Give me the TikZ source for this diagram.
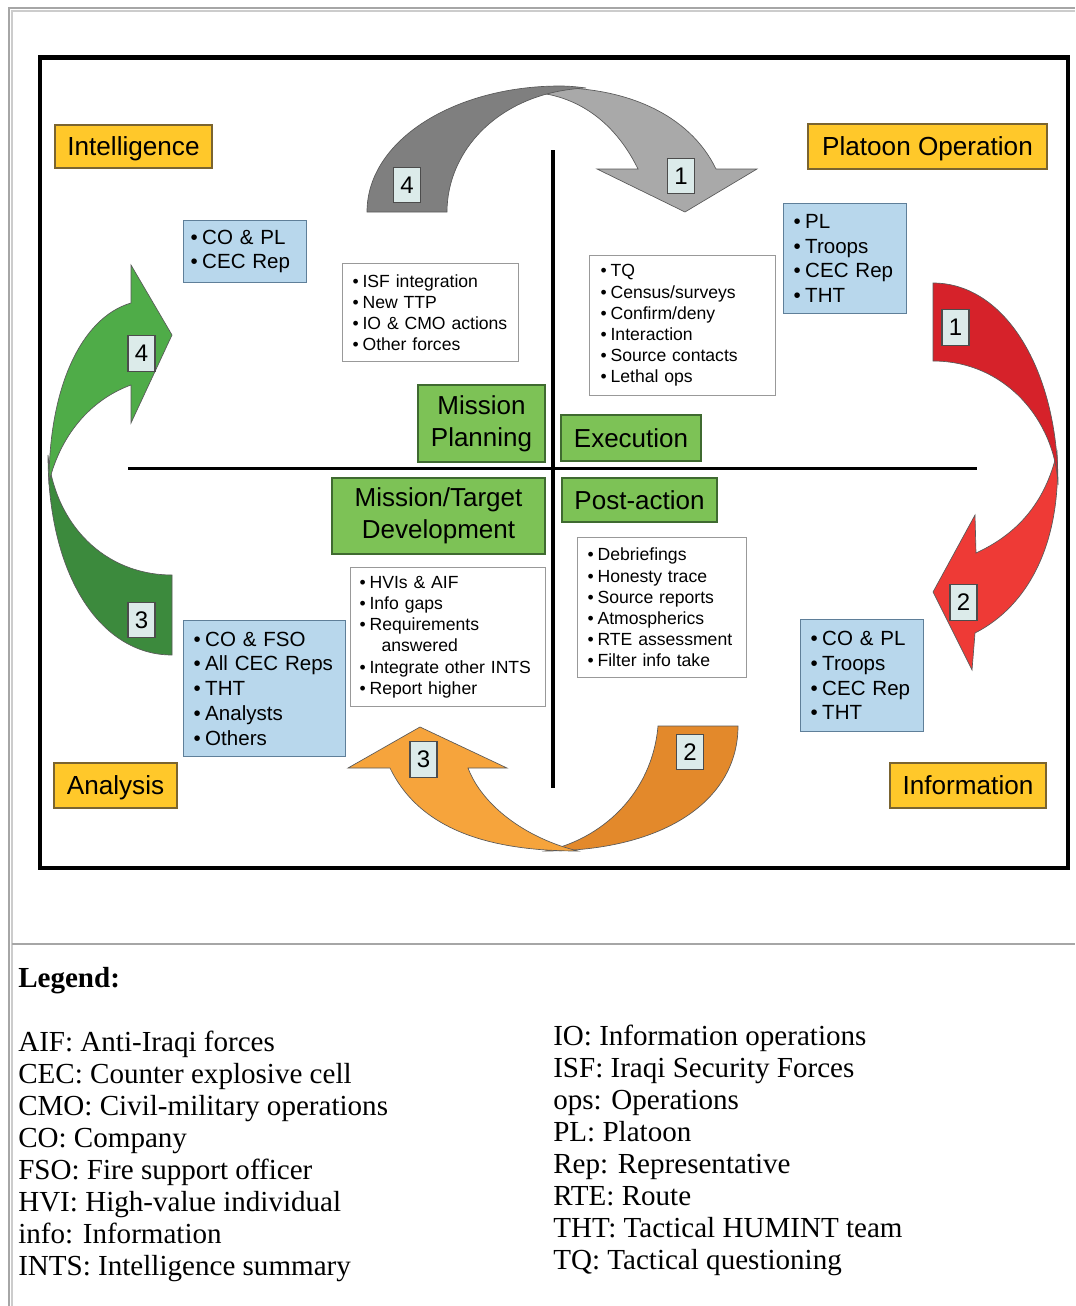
\documentclass[tikz,border=0pt]{standalone}
\usepackage{fontspec}
\usepackage{graphicx}
\setmainfont{Liberation Serif}
\newfontfamily\arialf{Liberation Sans}
\definecolor{yelF}{HTML}{FFC82A}
\definecolor{yelD}{HTML}{7A6430}
\definecolor{bluF}{HTML}{B8D7EC}
\definecolor{bluD}{HTML}{5F7F99}
\definecolor{grnF}{HTML}{7DC256}
\definecolor{grnD}{HTML}{3F6A30}
\definecolor{numF}{HTML}{DCEBEA}
\definecolor{gryA}{HTML}{7F7F7F}
\definecolor{gryB}{HTML}{A9A9A9}
\definecolor{redA}{HTML}{D6222A}
\definecolor{redB}{HTML}{EE3A36}
\definecolor{grA}{HTML}{4FAC48}
\definecolor{grB}{HTML}{3C8A3D}
\definecolor{orA}{HTML}{F6A43C}
\definecolor{orB}{HTML}{E3892B}
\newcommand{\bul}{\textbullet\hspace{0.22em}}
\tikzset{
  yel/.style={draw=yelD, fill=yelF, line width=0.8pt, inner sep=0pt, text depth=0pt,
    font=\arialf\fontsize{19.6}{23}\selectfont},
  listbox/.style={anchor=north west, inner ysep=0pt, align=left,
    font=\arialf\fontsize{15.4}{18.6}\selectfont},
  blu/.style={listbox, draw=bluD, fill=bluF, line width=0.8pt},
  wht/.style={listbox, draw=gray!80, fill=white, line width=0.8pt,
    font=\arialf\fontsize{13.2}{15.9}\selectfont},
  grn/.style={draw=grnD, fill=grnF, line width=0.8pt, inner sep=0pt, align=center,
    font=\arialf\fontsize{19.5}{24}\selectfont},
  num/.style={draw=black!70, fill=numF, line width=0.8pt, inner sep=0pt,
    minimum width=20.25pt, minimum height=26.5pt, font=\arialf\fontsize{18}{20}\selectfont},
  ashape/.style={draw=black!65, line width=0.5pt},
  leg/.style={anchor=base west, inner sep=0pt, font=\fontsize{21.8}{26}\selectfont}
}
\begin{document}
\begin{tikzpicture}[x=0.75pt,y=-0.75pt]
\useasboundingbox (0,0) rectangle (1075,1306);
% outer page frame
\draw[gray!70, line width=1pt] (9,1306) -- (9,8) -- (1075,8);
\draw[gray!40, line width=1pt] (12,1306) -- (12,11) -- (1075,11);
\draw[gray!70, line width=1.4pt] (12,944) -- (1075,944);
% black frame
\draw[line width=3.6pt] (40,57.5) rectangle (1068,868);
% axes
\draw[line width=2.3pt] (553,150) -- (553,788);
\draw[line width=2.3pt] (128,468.5) -- (977,468.5);

% gray arrows (top)
\fill[gryB, ashape] (540,88) .. controls (625,84) and (690,115) .. (716,169)
  -- (757,169) -- (685,212) -- (597,169) -- (638,169)
  .. controls (618,128) and (585,99) .. (540,93) -- cycle;
\fill[gryA, ashape] (367,212) .. controls (367,140) and (455,86) .. (560,86)
  .. controls (570,86) and (578,87) .. (586,88)
  .. controls (500,92) and (447,150) .. (447,212) -- cycle;

% red arrows (right)
\fill[redB, ashape] (1057,452) .. controls (1062,540) and (1030,605) .. (975,633)
  -- (972,670) -- (933,592) -- (975,515) -- (976,553)
  .. controls (1015,535) and (1045,505) .. (1057,452) -- cycle;
\fill[redA, ashape] (933,283) .. controls (1005,283) and (1058,370) .. (1058,485)
  .. controls (1055,420) and (1005,361) .. (933,361) -- cycle;

% green arrows (left)
\fill[grB, ashape] (172,655) .. controls (100,655) and (48,575) .. (48,455)
  .. controls (55,525) and (105,575) .. (172,575) -- cycle;
\fill[grA, ashape] (131,385) .. controls (95,398) and (62,430) .. (49,482)
  .. controls (49,390) and (80,318) .. (131,303) -- (131,265) -- (172,335)
  -- (131,423) -- cycle;

% orange arrows (bottom)
\fill[orB, ashape] (658,726) -- (738,726) .. controls (738,800) and (665,851) .. (545,851)
  .. controls (600,840) and (652,795) .. (658,726) -- cycle;
\fill[orA, ashape] (468,768) -- (507,768) -- (420,727) -- (348,768) -- (390,768)
  .. controls (420,830) and (490,851) .. (578,851)
  .. controls (525,838) and (482,805) .. (468,768) -- cycle;

% number labels
\node[num] (g4) at (407,185) {4};
\node[num] (g1) at (681,176) {1};
\node[num] (r1) at (955.5,327.5) {1};
\node[num] (r2) at (963.5,602.5) {2};
\node[num] (e4) at (141.5,353.5) {4};
\node[num] (e3) at (141.5,620) {3};
\node[num] (o3) at (423.5,759.5) {3};
\node[num] (o2) at (690,752) {2};

% corner labels
\node[yel, minimum width=117.75pt, minimum height=32.25pt] (intel) at (133.5,146.5) {Intelligence};
\node[yel, minimum width=179.25pt, minimum height=33.75pt] (plop) at (927.5,146.5) {Platoon Operation};
\node[yel, minimum width=92.25pt, minimum height=33.75pt] (anal) at (115.5,785.5) {Analysis};
\node[yel, minimum width=117pt, minimum height=33.75pt] (info) at (968,785.5) {Information};

% blue boxes
\node[blu, inner xsep=5.25pt, text width=81.75pt, minimum height=46.5pt] (b1) at (183,220)
  {\bul CO \& PL\\ \bul CEC Rep};
\node[blu, inner xsep=7.5pt, text width=77.25pt, minimum height=82.5pt] (b2) at (783,203)
  {\bul PL\\ \bul Troops\\ \bul CEC Rep\\ \bul THT};
\node[blu, inner xsep=7.5pt, text width=106.5pt, minimum height=102pt] (b3) at (183,620)
  {\bul CO \& FSO\\ \bul All CEC Reps\\ \bul THT\\ \bul Analysts\\ \bul Others};
\node[blu, inner xsep=7.5pt, text width=77.25pt, minimum height=84pt] (b4) at (800,619)
  {\bul CO \& PL\\ \bul Troops\\ \bul CEC Rep\\ \bul THT};

% white boxes
\node[wht, inner xsep=7.5pt, text width=117pt, minimum height=73.5pt] (w1) at (342,263)
  {\bul ISF integration\\ \bul New TTP\\ \bul IO \& CMO actions\\ \bul Other forces};
\node[wht, inner xsep=8.25pt, text width=123pt, minimum height=105pt] (w2) at (589,255)
  {\bul TQ\\ \bul Census/surveys\\ \bul Confirm/deny\\ \bul Interaction\\ \bul Source contacts\\ \bul Lethal ops};
\node[wht, inner xsep=6.75pt, text width=132.75pt, minimum height=104.25pt] (w3) at (350,567)
  {\bul HVIs \& AIF\\ \bul Info gaps\\ \bul Requirements\\ \hspace*{1.25em}answered\\ \bul Integrate other INTS\\ \bul Report higher};
\node[wht, inner xsep=7.5pt, text width=111.75pt, minimum height=105pt] (w4) at (577,537)
  {\bul Debriefings\\ \bul Honesty trace\\ \bul Source reports\\ \bul Atmospherics\\ \bul RTE assessment\\ \bul Filter info take};

% green phase boxes
\node[grn, minimum width=95.25pt, minimum height=57.75pt] (mp) at (481.5,423.5) {Mission\\Planning};
\node[grn, minimum width=105pt, minimum height=34.5pt] (ex) at (631,438) {Execution};
\node[grn, minimum width=159.75pt, minimum height=57pt] (mtd) at (438.5,516) {Mission/Target\\Development};
\node[grn, minimum width=116.25pt, minimum height=33pt] (pa) at (639.5,500) {Post-action};

% legend
\node[leg, font=\bfseries\fontsize{21.8}{26}\selectfont] (lg) at (18,987) {Legend:};
\node[leg] (l1) at (18,1051) {AIF: Anti-Iraqi forces};
\node[leg] (l2) at (18,1083) {CEC: Counter explosive cell};
\node[leg] (l3) at (18,1115) {CMO: Civil-military operations};
\node[leg] (l4) at (18,1147) {CO: Company};
\node[leg] (l5) at (18,1179) {FSO: Fire support officer};
\node[leg] (l6) at (18,1211) {HVI: High-value individual};
\node[leg] (l7) at (18,1243) {info: Information};
\node[leg] (l8) at (18,1275) {INTS: Intelligence summary};
\node[leg] (r1l) at (553,1045) {IO: Information operations};
\node[leg] (r2l) at (553,1077) {ISF: Iraqi Security Forces};
\node[leg] (r3l) at (553,1109) {ops: Operations};
\node[leg] (r4l) at (553,1141) {PL: Platoon};
\node[leg] (r5l) at (553,1173) {Rep: Representative};
\node[leg] (r6l) at (553,1205) {RTE: Route};
\node[leg] (r7l) at (553,1237) {THT: Tactical HUMINT team};
\node[leg] (r8l) at (553,1269) {TQ: Tactical questioning};
\end{tikzpicture}
\end{document}
